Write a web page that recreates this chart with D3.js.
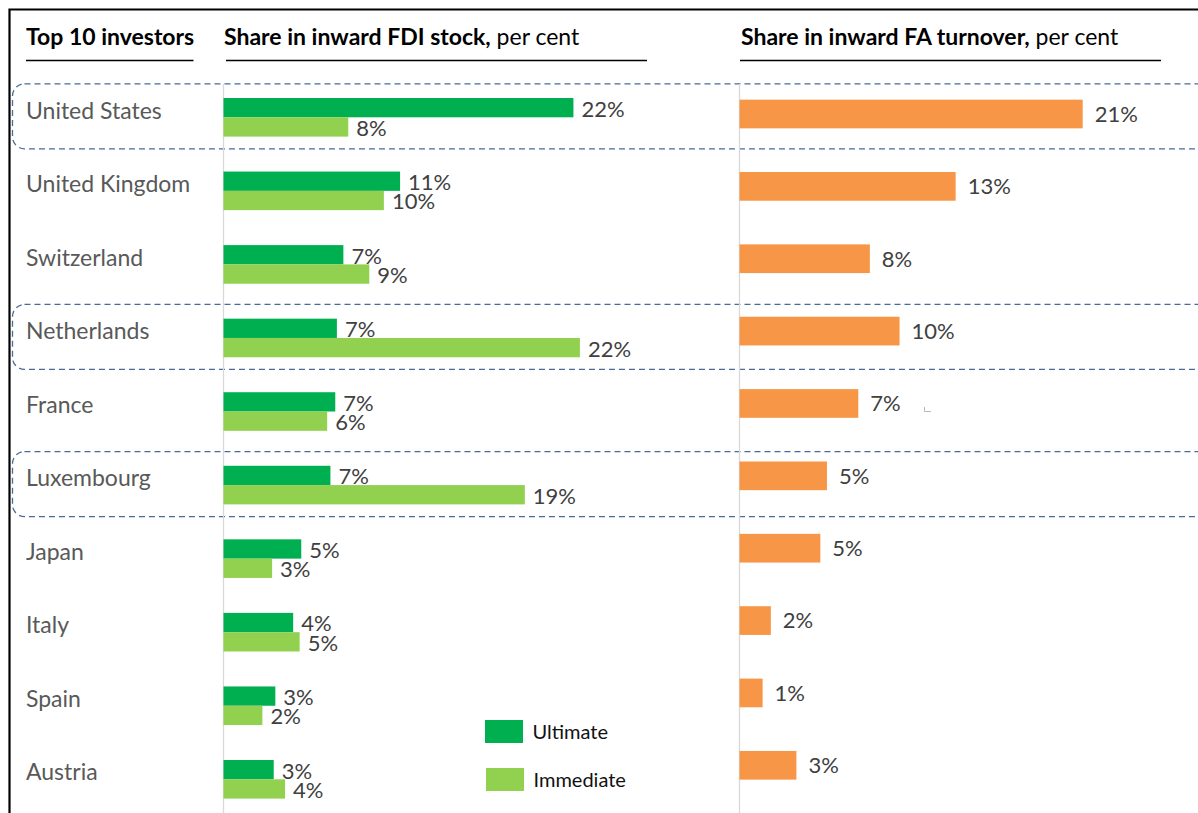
<!DOCTYPE html>
<html>
<head>
<meta charset="utf-8">
<script src="https://cdn.jsdelivr.net/npm/d3@7"></script>
<style>
  body { margin: 0; background: #fff; }
  svg { display: block; font-family: Lato, "Open Sans", sans-serif; }
</style>
</head>
<body>
<div id="chart"></div>
<script>
// data
var countries = ["United States", "United Kingdom", "Switzerland", "Netherlands", "France",
                 "Luxembourg", "Japan", "Italy", "Spain", "Austria"];
var fdiUltimate  = [21.6, 10.9, 7.4, 7.0, 6.9, 6.6, 4.8, 4.3, 3.2, 3.1];
var fdiImmediate = [7.7, 9.9, 9.0, 22.0, 6.4, 18.6, 3.0, 4.7, 2.4, 3.8];
var faTurnover   = [20.8, 13.1, 7.9, 9.7, 7.2, 5.3, 4.9, 1.9, 1.4, 3.45];
var highlighted  = ["United States", "Netherlands", "Luxembourg"];
var seriesNames  = ["Ultimate", "Immediate"];

var width = 1198, height = 813;
var darkGreen = "#00b050", lightGreen = "#92d050", orange = "#f79646";
var fmt = function (v) { return Math.round(v) + "%"; };

var svg = d3.select("#chart")
    .append("svg")
    .attr("width", width)
    .attr("height", height);

// scales
var xFdi = d3.scaleLinear().domain([0, 25]).range([223.5, 223.5 + 25 * 16.2]);
var xFa = d3.scaleLinear().domain([0, 25]).range([739.5, 739.5 + 25 * 16.5]);
var yFdi = d3.scalePoint().domain(countries).range([117.3, 779.3]);   // centre of bar pair
var yFa = d3.scalePoint().domain(countries).range([114, 765.3]);
var yLab = d3.scalePoint().domain(countries).range([119, 780]);       // label baseline
var barH = 19.3, faH = 28.7;

// frame
svg.append("path")
    .attr("d", "M9.5," + height + "V9.5H" + width)
    .attr("fill", "none")
    .attr("stroke", "#000")
    .attr("stroke-width", 2.2);

// highlight boxes
svg.selectAll("rect.hl")
    .data(highlighted)
    .enter()
    .append("rect")
    .attr("class", "hl")
    .attr("x", 12.5)
    .attr("y", function (d) { return yFdi(d) - 33.5; })
    .attr("width", 1240)
    .attr("height", 65)
    .attr("rx", 12)
    .attr("fill", "none")
    .attr("stroke", "#4a6a9a")
    .attr("stroke-width", 1.3)
    .attr("stroke-dasharray", "6,4");

// headers
var head = svg.append("g").attr("fill", "#000").style("font-size", "23px");
head.append("text").attr("x", 26).attr("y", 45)
    .style("font-weight", "bold").text("Top 10 investors");
var h2 = head.append("text").attr("x", 224).attr("y", 45);
h2.append("tspan").style("font-weight", "bold").text("Share in inward FDI stock,");
h2.append("tspan").text(" per cent");
var h3 = head.append("text").attr("x", 741).attr("y", 45);
h3.append("tspan").style("font-weight", "bold").text("Share in inward FA turnover,");
h3.append("tspan").text(" per cent");

[[26, 193.5], [226, 647], [740, 1161]].forEach(function (s) {
    svg.append("line")
        .attr("x1", s[0]).attr("x2", s[1])
        .attr("y1", 60.5).attr("y2", 60.5)
        .attr("stroke", "#000")
        .attr("stroke-width", 1.3);
});

// axis base lines
[xFdi(0), xFa(0)].forEach(function (x) {
    svg.append("line")
        .attr("x1", x).attr("x2", x)
        .attr("y1", 84).attr("y2", height)
        .attr("stroke", "#d9d9d9")
        .attr("stroke-width", 1.3);
});

// country labels
svg.selectAll("text.country")
    .data(countries)
    .enter()
    .append("text")
    .attr("class", "country")
    .attr("x", 26)
    .attr("y", function (d) { return yLab(d); })
    .attr("fill", "#595959")
    .style("font-size", "23px")
    .text(function (d) { return d; });

// FDI bars
var fdiSeries = [fdiUltimate, fdiImmediate];
var fdiColors = [darkGreen, lightGreen];
fdiSeries.forEach(function (vals, k) {
    var g = svg.append("g");
    g.selectAll("rect")
        .data(vals)
        .enter()
        .append("rect")
        .attr("x", xFdi(0))
        .attr("y", function (d, i) { return yFdi(countries[i]) - barH + k * barH; })
        .attr("width", function (d) { return xFdi(d) - xFdi(0); })
        .attr("height", barH)
        .attr("fill", fdiColors[k]);
    g.selectAll("text")
        .data(vals)
        .enter()
        .append("text")
        .attr("x", function (d) { return xFdi(d) + 8; })
        .attr("y", function (d, i) { return yFdi(countries[i]) - barH / 2 + k * barH + 1; })
        .attr("dy", "0.36em")
        .attr("fill", "#404040")
        .style("font-size", "22px")
        .text(fmt);
});

// FA bars
var fa = svg.append("g");
fa.selectAll("rect")
    .data(faTurnover)
    .enter()
    .append("rect")
    .attr("x", xFa(0))
    .attr("y", function (d, i) { return yFa(countries[i]) - faH / 2; })
    .attr("width", function (d) { return xFa(d) - xFa(0); })
    .attr("height", faH)
    .attr("fill", orange);
fa.selectAll("text")
    .data(faTurnover)
    .enter()
    .append("text")
    .attr("x", function (d) { return xFa(d) + 12; })
    .attr("y", function (d, i) { return yFa(countries[i]); })
    .attr("dy", "0.36em")
    .attr("fill", "#404040")
    .style("font-size", "22px")
    .text(fmt);

// stray mark next to France label
svg.append("path")
    .attr("d", "M924.5,407V411.5H931")
    .attr("fill", "none")
    .attr("stroke", "#a6a6a6")
    .attr("stroke-width", 0.8);

// legend
var legend = svg.selectAll("g.legend")
    .data(seriesNames)
    .enter()
    .append("g")
    .attr("class", "legend")
    .attr("transform", function (d, i) { return "translate(" + (485 + i) + "," + (720 + i * 48) + ")"; });
legend.append("rect")
    .attr("width", 38)
    .attr("height", 23)
    .attr("fill", function (d, i) { return fdiColors[i]; });
legend.append("text")
    .attr("x", 47.5)
    .attr("y", 18.5)
    .attr("fill", "#111")
    .style("font-size", "20px")
    .text(function (d) { return d; });
</script>
</body>
</html>
